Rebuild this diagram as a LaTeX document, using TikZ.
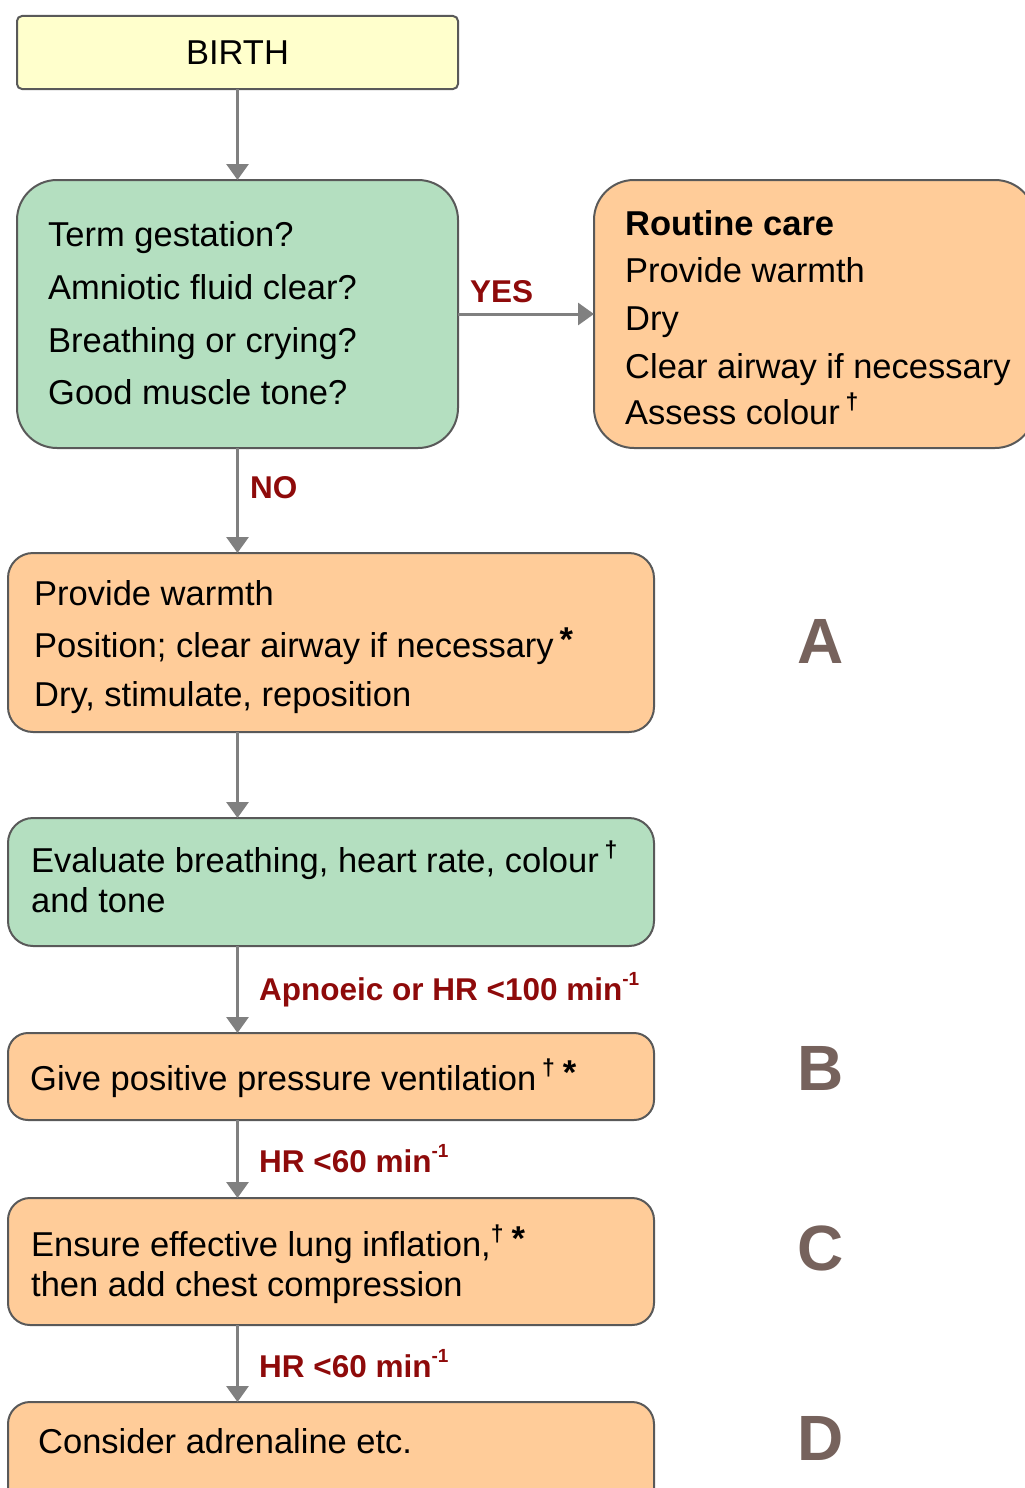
\documentclass[tikz,border=0pt]{standalone}
\usepackage{fontspec}
\setmainfont{Liberation Sans}
\usetikzlibrary{arrows.meta}

\definecolor{birthfill}{HTML}{FFFFCC}
\definecolor{qfill}{HTML}{B4DFC0}
\definecolor{actfill}{HTML}{FFCC99}
\definecolor{boxline}{HTML}{595959}
\definecolor{arrowgrey}{HTML}{808080}
\definecolor{labelred}{HTML}{8E0A0A}
\definecolor{lettergrey}{HTML}{76625C}

% raised footnote marks and unit exponents
\newcommand\daggermark{\raisebox{0.42em}{\fontsize{23}{23}\selectfont\bfseries †}}
\newcommand\starmark{{\bfseries\raisebox{6pt}{*}}}
\newcommand\unitexp[1]{\raisebox{0.45em}{\fontsize{19}{19}\selectfont\bfseries #1}}

\begin{document}
\begin{tikzpicture}[x=1pt,y=-1pt,
  box/.style={draw=boxline,line width=2pt,inner sep=0pt,outer sep=0pt},
  txt/.style={anchor=base west,inner sep=0pt,font=\fontsize{34.5}{40}\selectfont},
  lbl/.style={anchor=base west,inner sep=0pt,text=labelred,font=\fontsize{31.5}{36}\selectfont\bfseries},
  letter/.style={anchor=base,inner sep=0pt,text=lettergrey,font=\fontsize{64}{70}\selectfont\bfseries},
  arr/.style={draw=arrowgrey,line width=3pt,-{Triangle[width=22pt,length=16pt]}}]

\useasboundingbox (0,0) rectangle (1025,1488);
\clip (0,0) rectangle (1025,1488);

% boxes
\node[box,fill=birthfill,rounded corners=5pt,minimum width=441pt,minimum height=73pt] (birth) at (237.5,52.5) {};
\node[box,fill=qfill,rounded corners=40pt,minimum width=441pt,minimum height=268pt] (q) at (237.5,314) {};
\node[box,fill=actfill,rounded corners=40pt,minimum width=441pt,minimum height=268pt] (routine) at (814.5,314) {};
\node[box,fill=actfill,rounded corners=25pt,minimum width=646pt,minimum height=179pt] (a) at (331,642.5) {};
\node[box,fill=qfill,rounded corners=25pt,minimum width=646pt,minimum height=128pt] (eval) at (331,882) {};
\node[box,fill=actfill,rounded corners=20pt,minimum width=646pt,minimum height=87pt] (b) at (331,1076.5) {};
\node[box,fill=actfill,rounded corners=22pt,minimum width=646pt,minimum height=127pt] (c) at (331,1261.5) {};
\node[box,fill=actfill,rounded corners=22pt,minimum width=646pt,minimum height=110pt] (d) at (331,1457) {};

% box texts
\node[anchor=base,inner sep=0pt,font=\fontsize{34.5}{40}\selectfont] (birthtxt) at (237.5,65) {BIRTH};

\node[txt] (q1) at (48,246) {Term gestation?};
\node[txt] (q2) at (48,299) {Amniotic fluid clear?};
\node[txt] (q3) at (48,352) {Breathing or crying?};
\node[txt] (q4) at (48,404) {Good muscle tone?};

\node[txt,font=\fontsize{34.5}{40}\selectfont\bfseries] (r1) at (625,235) {Routine care};
\node[txt] (r2) at (625,282) {Provide warmth};
\node[txt] (r3) at (625,330) {Dry};
\node[txt] (r4) at (625,378) {Clear airway if necessary};
\node[txt] (r5) at (625,424) {Assess colour\,\daggermark};

\node[txt] (a1) at (34,605) {Provide warmth};
\node[txt] (a2) at (34,657) {Position; clear airway if necessary\,\starmark};
\node[txt] (a3) at (34,706) {Dry, stimulate, reposition};

\node[txt] (e1) at (31,872) {Evaluate breathing, heart rate, colour\,\daggermark};
\node[txt] (e2) at (31,912) {and tone};

\node[txt] (b1) at (30,1090) {Give positive pressure ventilation\,\daggermark\hspace{8pt}\starmark};

\node[txt] (c1) at (31,1256) {Ensure effective lung inflation,\daggermark\hspace{8pt}\starmark};
\node[txt] (c2) at (31,1296) {then add chest compression};

\node[txt] (d1) at (38,1453) {Consider adrenaline etc.};

% connectors
\draw[arr] (birth) -- (q);
\draw[arr] (q) -- (routine);
\draw[arr] (q) -- (q |- a.north);
\draw[arr] (a.south -| q) -- (eval.north -| q);
\draw[arr] (eval.south -| q) -- (b.north -| q);
\draw[arr] (b.south -| q) -- (c.north -| q);
\draw[arr] (c.south -| q) -- (d.north -| q);

% connector labels
\node[lbl] (yes) at (470,302) {YES};
\node[lbl] (no) at (250,498) {NO};
\node[lbl] (apnoeic) at (259,1000) {Apnoeic or HR <100 min\unitexp{-1}};
\node[lbl] (hr1) at (259,1172) {HR <60 min\unitexp{-1}};
\node[lbl] (hr2) at (259,1377) {HR <60 min\unitexp{-1}};

% stage letters
\node[letter] (la) at (821,663) {A};
\node[letter] (lb) at (821,1090) {B};
\node[letter] (lc) at (821,1270) {C};
\node[letter] (ld) at (821,1460) {D};
\end{tikzpicture}
\end{document}
